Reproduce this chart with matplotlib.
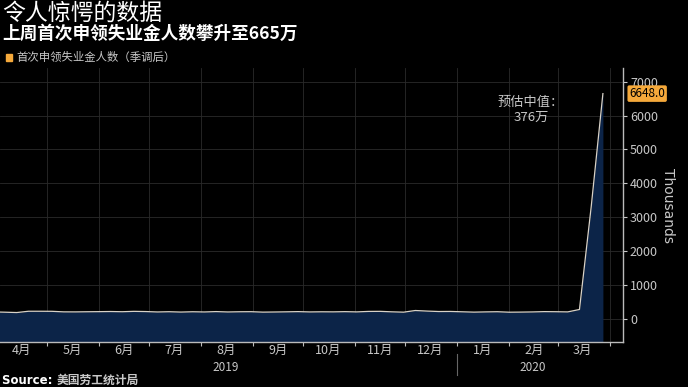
import matplotlib
matplotlib.use("Agg")
import matplotlib.pyplot as plt
import pandas as pd

plt.rcParams['font.family'] = ['Noto Sans CJK SC', 'DejaVu Sans']

# weekly initial jobless claims, SA (thousands)
weeks = pd.date_range("2019-03-30", "2020-03-28", freq="7D")
claims = [211, 202, 192, 230, 230, 228, 212, 211, 215, 218, 222, 216, 227, 221,
          209, 216, 206, 215, 209, 220, 209, 215, 217, 204, 208, 213, 219, 210,
          214, 212, 218, 211, 225, 227, 213, 203, 252, 235, 222, 224, 214, 204,
          211, 216, 202, 205, 210, 219, 216, 211, 282, 3307, 6648]
month_labels = ["4月", "5月", "6月", "7月", "8月", "9月", "10月", "11月", "12月",
                "1月", "2月", "3月"]
yticks = [0, 1000, 2000, 3000, 4000, 5000, 6000, 7000]

BG = "black"
FG = "#c8c8c8"
ORANGE = "#f5a93b"

fig = plt.figure(figsize=(6.88, 3.87), dpi=100, facecolor=BG)
ax = fig.add_axes([0.0, 0.116, 623 / 688, 0.708], facecolor=BG)

ymin, ymax = -680, 7400
ax.fill_between(weeks, claims, ymin, color="#0c2448", lw=0, zorder=2)
ax.plot(weeks, claims, color="#d8d2c8", lw=0.9, zorder=3)
ax.set_ylim(ymin, ymax)
ax.set_xlim(pd.Timestamp("2019-04-03"), pd.Timestamp("2020-04-09"))

# axes styling
for s in ["top", "left"]:
    ax.spines[s].set_visible(False)
for s in ["right", "bottom"]:
    ax.spines[s].set_color("#bbbbbb")
    ax.spines[s].set_linewidth(1.0)
ax.yaxis.tick_right()
ax.set_yticks(yticks)
ax.set_yticklabels([str(v) for v in yticks])
ax.tick_params(axis="y", colors=FG, labelsize=9, length=3, pad=2)
ax.yaxis.set_label_position("right")
ax.set_ylabel("Thousands", color=FG, fontsize=10, rotation=270, labelpad=12,
              family="DejaVu Sans")

month_starts = pd.date_range("2019-05-01", "2020-04-01", freq="MS")
mids = pd.date_range("2019-04-01", "2020-03-01", freq="MS") + pd.Timedelta(days=15)
ax.set_xticks(month_starts)
ax.set_xticklabels([])
ax.tick_params(axis="x", which="major", length=3, colors="#bbbbbb")
ax.set_xticks(mids, minor=True)
ax.set_xticklabels(month_labels, minor=True)
ax.tick_params(axis="x", which="minor", length=0, colors=FG, labelsize=9, pad=1.5)

ax.grid(True, which="major", color="#2a2a2a", lw=0.6, zorder=1)

# year labels
trans = ax.get_xaxis_transform()
ax.text(pd.Timestamp("2019-08-16"), -0.068, "2019", transform=trans, ha="center",
        va="top", color=FG, fontsize=8.5)
ax.text(pd.Timestamp("2020-02-15"), -0.068, "2020", transform=trans, ha="center",
        va="top", color=FG, fontsize=8.5)
ax.plot([pd.Timestamp("2020-01-01")] * 2, [-0.045, -0.12], transform=trans,
        color="#666666", lw=0.8, clip_on=False)

# annotation
ax.text(pd.Timestamp("2020-02-14"), 6160, "预估中值：\n376万", ha="center",
        va="center", color=FG, fontsize=9.5, linespacing=1.15)
ax.text(1.01, (6648 - ymin) / (ymax - ymin), "6648.0", transform=ax.transAxes,
        ha="left", va="center", color="black", fontsize=8.5,
        bbox=dict(boxstyle="round,pad=0.15", fc=ORANGE, ec="none"))

# titles
fig.text(0.003, 0.965, "令人惊愕的数据", color="white", fontsize=16.5, va="center")
fig.text(0.003, 0.912, "上周首次申领失业金人数攀升至665万", color="white",
         fontsize=12.7, weight="bold", va="center")
fig.patches.append(plt.Rectangle((0.008, 0.842), 0.01, 0.018, color=ORANGE,
                                 transform=fig.transFigure, figure=fig))
fig.text(0.024, 0.851, "首次申领失业金人数（季调后）", color=FG, fontsize=8.2,
         va="center")
fig.text(0.003, 0.018, "Source: ", color="white", fontsize=8.5, weight="bold",
         va="center", family="DejaVu Sans")
fig.text(0.083, 0.018, "美国劳工统计局", color=FG, fontsize=8.5, weight="bold",
         va="center")

fig.savefig("out.png", dpi=100, facecolor=BG)
